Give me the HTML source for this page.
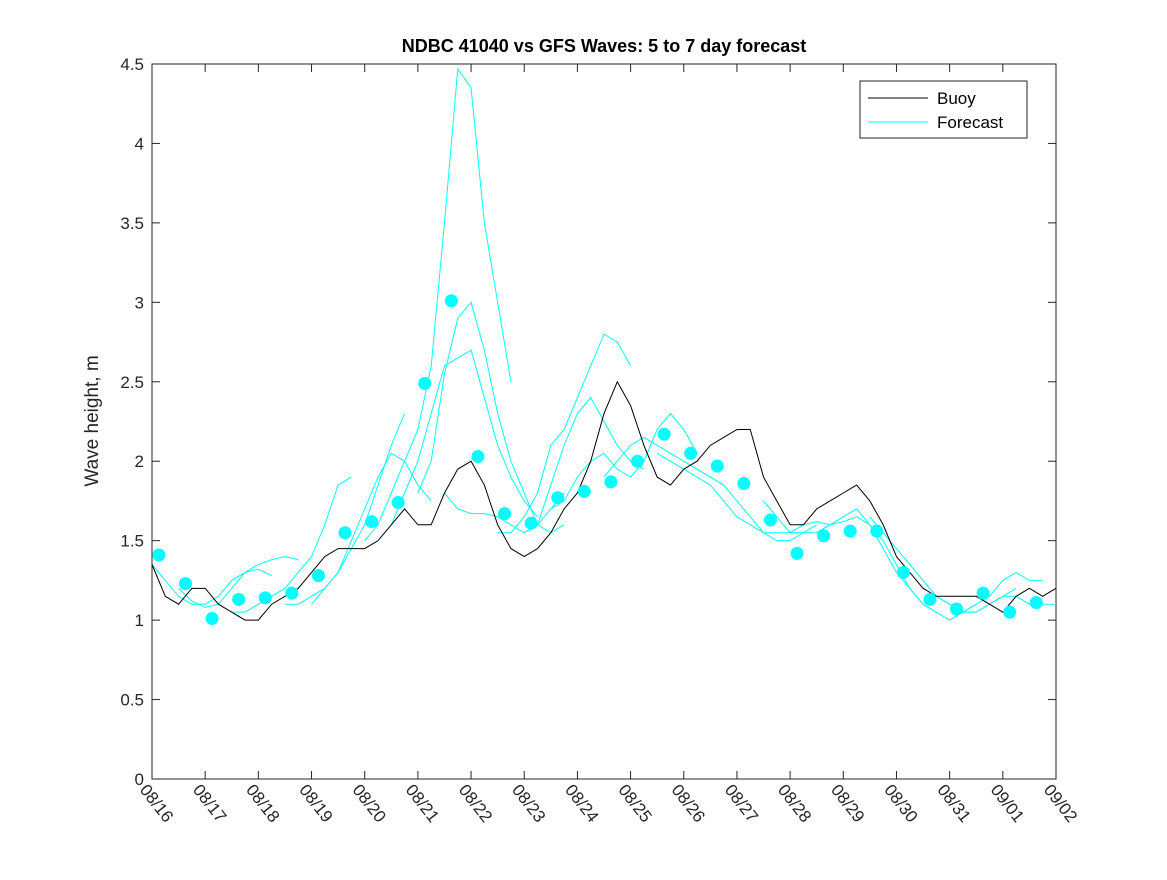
<!DOCTYPE html>
<html><head><meta charset="utf-8"><style>
body{margin:0;background:#fff}
svg{font-family:"Liberation Sans",sans-serif}
</style></head><body>
<svg id="chart" width="1167" height="875" xmlns="http://www.w3.org/2000/svg">
<rect width="1167" height="875" fill="#fff"/>
<text x="604" y="52" text-anchor="middle" font-size="18" font-weight="bold" fill="#000">NDBC 41040 vs GFS Waves: 5 to 7 day forecast</text>
<text transform="translate(98,421) rotate(-90)" text-anchor="middle" font-size="19" fill="#262626">Wave height, m</text>
<g id="plot"></g>
</svg>
<script>
const xLabels=["08/16","08/17","08/18","08/19","08/20","08/21","08/22","08/23","08/24","08/25","08/26","08/27","08/28","08/29","08/30","08/31","09/01","09/02"];
const yTicks=[0,0.5,1,1.5,2,2.5,3,3.5,4,4.5];
const buoy=[1.35,1.15,1.1,1.2,1.2,1.1,1.05,1.0,1.0,1.1,1.15,1.2,1.3,1.4,1.45,1.45,1.45,1.5,1.6,1.7,1.6,1.6,1.8,1.95,2.0,1.85,1.6,1.45,1.4,1.45,1.55,1.7,1.8,2.0,2.3,2.5,2.35,2.1,1.9,1.85,1.95,2.0,2.1,2.15,2.2,2.2,1.9,1.75,1.6,1.6,1.7,1.75,1.8,1.85,1.75,1.6,1.4,1.3,1.2,1.15,1.15,1.15,1.15,1.1,1.05,1.15,1.2,1.15,1.2];
const dotDays=[0.13,0.63,1.13,1.63,2.13,2.63,3.13,3.63,4.13,4.63,5.13,5.63,6.13,6.63,7.13,7.63,8.13,8.63,9.13,9.63,10.13,10.63,11.13,11.63,12.13,12.63,13.13,13.63,14.13,14.63,15.13,15.63,16.13,16.63];
const dotVals=[1.41,1.23,1.01,1.13,1.14,1.17,1.28,1.55,1.62,1.74,2.49,3.01,2.03,1.67,1.61,1.77,1.81,1.87,2.00,2.17,2.05,1.97,1.86,1.63,1.42,1.53,1.56,1.56,1.30,1.13,1.07,1.17,1.05,1.11];
const fcStarts=[0,0.5,1.5,2.5,3,4,4.5,5,5.5,6.5,7,7.5,8.5,9.5,10,11.5,12.5,13.5,14.5,15];
const fcVals=[
[1.35,1.25,1.15,1.1,1.1,1.15,1.25,1.3,1.32,1.28],
[1.2,1.12,1.08,1.1,1.2,1.3,1.35,1.38,1.4,1.38],
[1.05,1.05,1.1,1.15,1.2,1.3,1.4,1.6,1.85,1.9],
[1.1,1.1,1.15,1.2,1.3,1.45,1.6,1.85,2.1,2.3],
[1.1,1.2,1.3,1.5,1.7,1.9,2.05,2.0,1.85,1.75],
[1.5,1.6,1.8,2.0,2.2,2.6,3.5,4.47,4.35,3.5,3.0,2.5],
[1.6,1.8,2.0,2.3,2.6,2.65,2.7,2.4,2.1,1.9,1.75,1.65],
[1.8,2.0,2.55,2.9,3.0,2.7,2.3,2.0,1.8,1.6,1.55,1.6],
[1.8,1.7,1.67,1.67,1.65,1.6,1.55,1.6,1.7,1.8],
[1.55,1.55,1.65,1.8,2.1,2.2,2.4,2.6,2.8,2.75,2.6],
[1.55,1.6,1.85,2.1,2.3,2.4,2.25,2.1,2.0,1.95],
[1.7,1.75,1.9,2.0,2.05,1.95,1.9,2.0,2.2,2.3,2.2,2.05],
[1.9,2.0,2.1,2.15,2.1,2.05,2.0,1.95,1.9,1.85],
[2.05,2.0,1.95,1.9,1.85,1.75,1.65,1.6,1.55,1.5,1.5,1.55,1.6],
[2.0,1.95,1.9,1.85,1.75,1.65,1.55,1.55,1.55,1.6,1.62,1.6],
[1.75,1.65,1.55,1.55,1.55,1.6,1.65,1.7,1.6,1.45,1.3,1.2,1.1,1.05],
[1.55,1.6,1.62,1.65,1.6,1.5,1.35,1.2,1.1,1.05,1.0,1.05,1.1],
[1.65,1.55,1.45,1.35,1.25,1.15,1.1,1.05,1.05,1.1,1.15,1.2],
[1.25,1.15,1.1,1.05,1.1,1.15,1.25,1.3,1.25,1.25],
[1.1,1.05,1.05,1.1,1.15,1.15,1.1,1.1,1.1]];
const X0=152,X1=1056,Y0=779,Y1=64;
const xs=d=>X0+d*(X1-X0)/17, ys=v=>Y0-v*(Y0-Y1)/4.5;
const NS="http://www.w3.org/2000/svg", g=document.getElementById('plot');
function mk(t,a){const e=document.createElementNS(NS,t);for(const k in a)e.setAttribute(k,a[k]);g.appendChild(e);return e;}
let e=mk('rect',{x:X0,y:Y1,width:X1-X0,height:Y0-Y1,fill:'#fff',stroke:'#262626','stroke-width':1});


yTicks.forEach(v=>{const y=ys(v);
mk('line',{x1:X0,x2:X0+8,y1:y,y2:y,stroke:'#262626'});mk('line',{x1:X1,x2:X1-8,y1:y,y2:y,stroke:'#262626'});
const t=mk('text',{x:X0-8,y:y+6,'text-anchor':'end','font-size':17,fill:'#262626'});t.textContent=String(v);

});
xLabels.forEach((l,i)=>{const x=xs(i);
mk('line',{x1:x,x2:x,y1:Y0,y2:Y0-8,stroke:'#262626'});mk('line',{x1:x,x2:x,y1:Y1,y2:Y1+8,stroke:'#262626'});
const t=mk('text',{transform:`translate(${x-13},${Y0+11}) rotate(52)`,'font-size':17,fill:'#262626'});t.textContent=l;

});
fcVals.forEach((s,i)=>{const p=mk('polyline',{points:s.map((v,j)=>xs(fcStarts[i]+j*0.25)+','+ys(v)).join(' '),fill:'none',stroke:'#00ffff','stroke-width':1});

});
const b=mk('polyline',{points:buoy.map((v,j)=>xs(j*0.25)+','+ys(v)).join(' '),fill:'none',stroke:'#000','stroke-width':1});


dotDays.forEach((d,i)=>{const c=mk('circle',{cx:xs(d),cy:ys(dotVals[i]),r:6.5,fill:'#00ffff'});

});
const lg=mk('rect',{x:860,y:81,width:167,height:57,fill:'#fff',stroke:'#262626'});


mk('line',{x1:868,x2:928,y1:98,y2:98,stroke:'#000'});
mk('line',{x1:868,x2:928,y1:122,y2:122,stroke:'#00ffff'});
let t1=mk('text',{x:937,y:104,'font-size':17,fill:'#000'});t1.textContent='Buoy';


let t2=mk('text',{x:937,y:128,'font-size':17,fill:'#000'});t2.textContent='Forecast';


</script>
</body></html>
